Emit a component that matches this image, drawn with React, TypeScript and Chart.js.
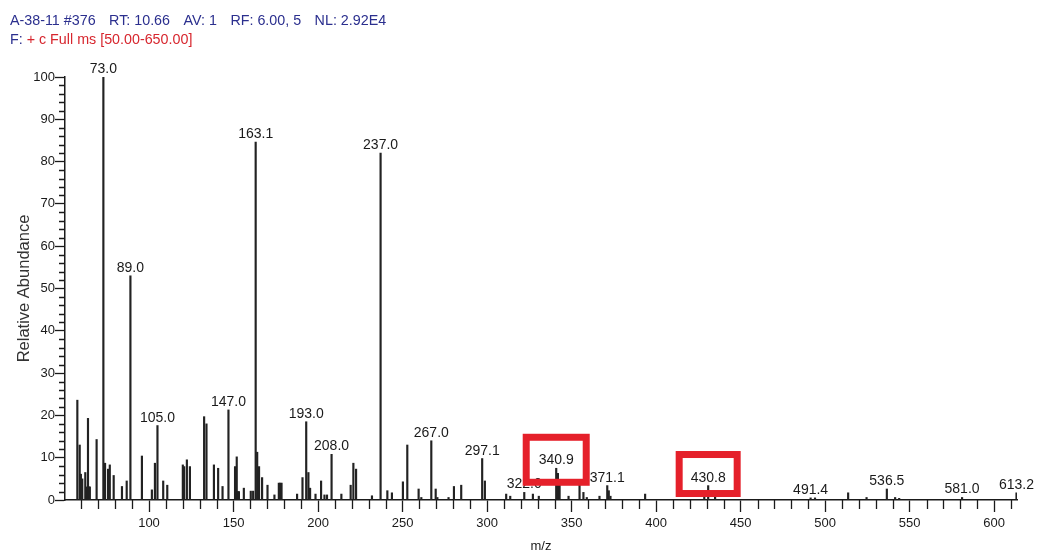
import React, { useEffect, useRef } from 'react';
import { Chart, registerables } from 'chart.js';

Chart.register(...registerables);

// ---- data ----
const mzValues: number[] = [
  57.6, 59.0, 59.7, 60.5, 62.3, 63.2, 63.9, 64.5, 65.0, 69.0,
  73.0, 74.0, 75.8, 76.8, 79.1, 84.0, 86.8, 89.0, 95.8, 101.7,
  103.5, 105.0, 108.4, 110.8, 120.0, 120.8, 122.4, 124.2, 132.6, 134.0,
  138.4, 140.9, 143.5, 147.0, 150.9, 151.9, 152.5, 153.2, 156.1, 160.2,
  161.6, 163.1, 164.0, 165.1, 166.9, 170.1, 174.2, 176.8, 177.6, 178.4,
  187.6, 190.8, 193.0, 194.3, 195.3, 198.5, 201.8, 203.8, 205.3, 208.0,
  213.8, 219.3, 220.9, 222.5, 231.9, 237.0, 241.0, 243.7, 250.2, 252.8,
  259.5, 261.1, 267.0, 269.6, 270.6, 277.2, 280.4, 284.7, 297.1, 298.7,
  311.3, 313.7, 322.0, 327.1, 330.6, 340.9, 341.9, 342.9, 348.2, 354.7,
  357.0, 359.0, 366.5, 371.1, 372.0, 373.0, 393.5, 428.5, 430.8, 434.9,
  491.4, 494.0, 513.6, 524.5, 536.5, 541.4, 543.8, 581.0, 613.2,
];
const abundance: number[] = [
  23.6, 13.0, 6.1, 5.0, 6.5, 3.1, 19.3, 3.1, 3.1, 14.3,
  100, 8.7, 7.3, 8.3, 5.8, 3.2, 4.5, 53.0, 10.4, 2.4,
  8.7, 17.6, 4.5, 3.5, 8.3, 7.9, 9.5, 7.9, 19.7, 18.0,
  8.3, 7.5, 3.2, 21.3, 7.9, 10.2, 2.0, 2.0, 2.8, 2.1,
  2.1, 84.6, 11.3, 7.9, 5.3, 3.5, 1.2, 4.0, 4.0, 4.0,
  1.4, 5.3, 18.5, 6.5, 2.8, 1.4, 4.5, 1.2, 1.2, 10.8,
  1.4, 3.5, 8.7, 7.3, 1.0, 82.0, 2.2, 1.7, 4.3, 13.0,
  2.6, 0.6, 14.0, 2.6, 0.6, 0.6, 3.2, 3.5, 9.8, 4.5,
  1.4, 0.9, 1.8, 1.4, 0.9, 7.5, 6.3, 3.5, 0.9, 4.1,
  1.8, 0.6, 0.9, 3.4, 2.2, 0.9, 1.4, 1.2, 3.4, 1.2,
  0.5, 0.5, 1.7, 0.6, 2.6, 0.6, 0.4, 0.6, 1.7,
];
const labelMz: number[] = [
  73.0, 89.0, 105.0, 147.0, 163.1, 193.0, 208.0, 237.0, 267.0,
  297.1, 322.0, 340.9, 371.1, 430.8, 491.4, 536.5, 581.0, 613.2,
];
const labelText: string[] = labelMz.map((v) => v.toFixed(1));
const highlightedMz: number[] = [340.9, 430.8];
const xTickValues: number[] = [100, 150, 200, 250, 300, 350, 400, 450, 500, 550, 600];
const yTickValues: number[] = [0, 10, 20, 30, 40, 50, 60, 70, 80, 90, 100];
const headerSegments: string[] = ['A-38-11 #376', 'RT: 10.66', 'AV: 1', 'RF: 6.00, 5', 'NL: 2.92E4'];
const filterPrefix = 'F:';
const filterText = '+ c Full ms [50.00-650.00]';
const xTitle = 'm/z';
const yTitle = 'Relative Abundance';

const FONT = '"Liberation Sans", Arial, sans-serif';
const INK = '#1a1a1a';
const NAVY = '#2b2f8e';
const RED = '#d7262e';
const BOX_RED = '#e5202a';

const boxStyles = [
  { halfW: 30, halfH: 22.5, dy: 0.5 },
  { halfW: 29, halfH: 19.5, dy: -2.6 },
];

const extrasPlugin = {
  id: 'msExtras',
  afterDraw(chart: any) {
    const { ctx, scales } = chart;
    const x = scales.x;
    const y = scales.y;
    const area = chart.chartArea;
    ctx.save();

    // minor ticks
    ctx.strokeStyle = INK;
    ctx.lineWidth = 1.3;
    ctx.beginPath();
    for (let v = 2; v < 100; v += 2) {
      if (v % 10 === 0) continue;
      const py = Math.round(y.getPixelForValue(v)) + 0.5;
      ctx.moveTo(area.left - 6, py);
      ctx.lineTo(area.left, py);
    }
    for (let v = 60; v <= 610; v += 10) {
      if (v % 50 === 0) continue;
      const px = Math.round(x.getPixelForValue(v)) + 0.5;
      ctx.moveTo(px, area.bottom);
      ctx.lineTo(px, area.bottom + 9);
    }
    ctx.stroke();

    // peak labels
    ctx.font = `14px ${FONT}`;
    ctx.fillStyle = INK;
    ctx.textAlign = 'center';
    ctx.textBaseline = 'alphabetic';
    const centers: Record<string, { cx: number; cy: number }> = {};
    labelMz.forEach((m, i) => {
      const idx = mzValues.indexOf(m);
      const px = x.getPixelForValue(m);
      const py = y.getPixelForValue(abundance[idx]);
      ctx.fillText(labelText[i], px, py - 4);
      centers[String(m)] = { cx: px, cy: py - 9 };
    });

    // highlight boxes
    ctx.strokeStyle = BOX_RED;
    ctx.lineWidth = 7;
    highlightedMz.forEach((m, i) => {
      const c = centers[String(m)];
      const s = boxStyles[i];
      ctx.strokeRect(c.cx - s.halfW, c.cy + s.dy - s.halfH, s.halfW * 2, s.halfH * 2);
    });

    // header
    ctx.textAlign = 'left';
    ctx.font = `14.3px ${FONT}`;
    ctx.fillStyle = NAVY;
    let hx = 10;
    headerSegments.forEach((seg) => {
      ctx.fillText(seg, hx, 24.5);
      hx += ctx.measureText(seg).width + 13.5;
    });
    ctx.fillStyle = NAVY;
    ctx.fillText(filterPrefix, 10, 43.5);
    const fw = ctx.measureText(filterPrefix + ' ').width;
    ctx.fillStyle = RED;
    ctx.fillText(filterText, 10 + fw, 43.5);

    ctx.restore();
  },
};

export default function App() {
  const ref = useRef<HTMLCanvasElement | null>(null);

  useEffect(() => {
    if (!ref.current) return;
    const chart = new Chart(ref.current, {
      type: 'bar',
      data: {
        datasets: [
          {
            data: mzValues.map((m, i) => ({ x: m, y: abundance[i] })),
            backgroundColor: '#222',
            borderWidth: 0,
            barThickness: 1.5,
          } as any,
        ],
      },
      options: {
        responsive: false,
        animation: false,
        layout: { padding: { top: 77, right: 20, bottom: 0, left: 0 } },
        plugins: {
          legend: { display: false },
          tooltip: { enabled: false },
        },
        scales: {
          x: {
            type: 'linear',
            min: 50.3,
            max: 613.5,
            offset: false,
            afterFit: (s: any) => { s.height = 54; },
            afterBuildTicks: (s: any) => {
              s.ticks = xTickValues.map((v) => ({ value: v }));
            },
            grid: {
              display: true,
              drawOnChartArea: false,
              drawTicks: true,
              tickLength: 12,
              tickColor: INK,
              tickWidth: 1.3,
              offset: false,
            } as any,
            border: { display: true, color: INK, width: 1.5 },
            ticks: {
              color: INK,
              font: { family: FONT, size: 13 },
              padding: 4,
              maxRotation: 0,
              autoSkip: false,
              callback: (v: any) => String(v),
            },
            title: {
              display: true,
              text: xTitle,
              color: INK,
              font: { family: FONT, size: 13 },
              padding: { top: 0, bottom: 0 },
            },
          },
          y: {
            type: 'linear',
            min: 0,
            max: 100,
            afterFit: (s: any) => { s.width = 65; },
            afterBuildTicks: (s: any) => {
              s.ticks = yTickValues.map((v) => ({ value: v }));
            },
            grid: {
              display: true,
              drawOnChartArea: false,
              drawTicks: true,
              tickLength: 10,
              tickColor: INK,
              tickWidth: 1.3,
            } as any,
            border: { display: true, color: INK, width: 1.5 },
            ticks: {
              color: INK,
              font: { family: FONT, size: 13 },
              padding: 0,
              autoSkip: false,
              callback: (v: any) => String(v),
            },
            title: {
              display: true,
              text: yTitle,
              color: '#333',
              font: { family: FONT, size: 16.5 },
              padding: { top: 15, bottom: 0 },
            },
          },
        },
      },
      plugins: [extrasPlugin],
    });
    return () => chart.destroy();
  }, []);

  return (
    <div style={{ position: 'fixed', left: 0, top: 0, width: 1037, height: 554, background: '#fff' }}>
      <canvas ref={ref} width={1037} height={554} style={{ width: 1037, height: 554, display: 'block' }} />
    </div>
  );
}
